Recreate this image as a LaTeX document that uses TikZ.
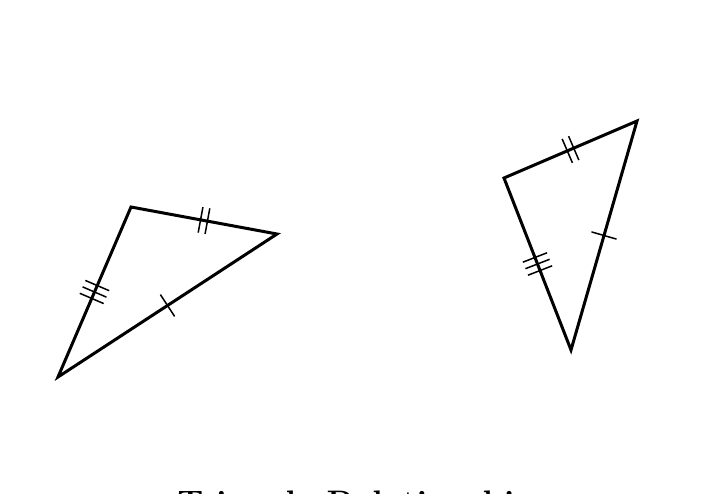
\documentclass[tikz,border=0pt]{standalone}
\usetikzlibrary{calc}
\newcommand\tickon[3]{%
  \coordinate (tm) at ($(#1)!0.5!(#2)$);
  \coordinate (tp) at ($(tm)!#3!(#2)$);
  \draw[tickmark] ($(tp)!13pt!90:(#2)$) -- ($(tp)!13pt!-90:(#2)$);
}
\begin{document}
\begin{tikzpicture}[x=1pt,y=-1pt,
  side/.style={line width=3pt, line join=miter},
  tickmark/.style={line width=1.5pt}]
\useasboundingbox (0,0) rectangle (728,494);
% left triangle
\coordinate (A) at (131,207);
\coordinate (B) at (277,234);
\coordinate (C) at (58,377);
\draw[side] (A) -- (B) -- (C) -- cycle;
\tickon{A}{B}{-3.5pt}\tickon{A}{B}{3.5pt}
\tickon{A}{C}{-7pt}\tickon{A}{C}{0pt}\tickon{A}{C}{7pt}
\tickon{B}{C}{0pt}
% right triangle
\coordinate (D) at (504,178);
\coordinate (E) at (637,121);
\coordinate (F) at (571,350);
\draw[side] (D) -- (E) -- (F) -- cycle;
\tickon{D}{E}{-3.5pt}\tickon{D}{E}{3.5pt}
\tickon{D}{F}{-7pt}\tickon{D}{F}{0pt}\tickon{D}{F}{7pt}
\tickon{E}{F}{0pt}
% title
\node[font=\bfseries\fontsize{34}{40}\selectfont, anchor=base, inner sep=0pt] (title) at (364,514.5) {Triangle Relationships};
\end{tikzpicture}
\end{document}
